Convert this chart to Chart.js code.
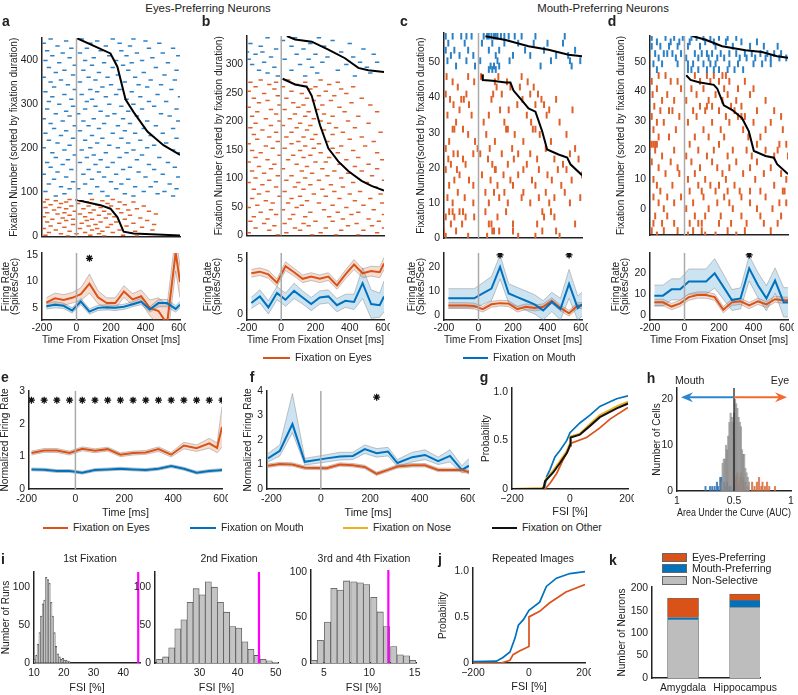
<!DOCTYPE html>
<html>
<head>
<meta charset="utf-8">
<script src="https://cdn.jsdelivr.net/npm/chart.js@4.4.1/dist/chart.umd.min.js"></script>
<style>
    body { margin: 0; width: 798px; height: 695px; position: relative; overflow: hidden; background: #fff;
           font-family: "Liberation Sans", Arial, Helvetica, sans-serif; color: #222; }
    canvas { position: absolute; }
    .t { position: absolute; white-space: nowrap; font-size: 10.4px; line-height: 1; }
    .lt { font-weight: bold; font-size: 14px; }
    .ln { position: absolute; height: 0; border-top: 2px solid; }
    .box { position: absolute; width: 25px; height: 9px; border: 1px solid #666; box-sizing: border-box; }
</style>
</head>
<body>
<script>
// ---- data ----
// firing-rate time bins (ms) for a-d
const binT = [-175, -125, -75, -25, 25, 75, 125, 175, 225, 275, 325, 375, 425, 475, 525, 575, 600];

// a: eyes-preferring neuron
const aEyes = [6.0, 6.8, 6.5, 6.9, 7.6, 9.6, 7.0, 5.9, 5.9, 8.1, 6.6, 7.2, 5.0, 4.4, 2.0, 15.5, 9.9];
const aEyesErr = [0.9, 1.0, 1.0, 1.0, 1.2, 1.8, 1.2, 1.0, 1.0, 1.1, 1.1, 1.2, 1.5, 2.5, 3.5, 3.5, 3.0];
const aMouth = [5.3, 5.6, 5.4, 4.5, 6.2, 4.3, 5.0, 5.1, 5.0, 5.2, 5.7, 6.2, 4.7, 5.9, 5.9, 4.8, 5.6];
const aMouthErr = [0.5, 0.6, 0.5, 0.5, 0.6, 0.5, 0.5, 0.5, 0.5, 0.5, 0.5, 0.6, 0.5, 0.7, 0.7, 0.6, 0.6];
const aStarT = [75];

// b: eyes-preferring neuron
const bEyes = [3.7, 3.85, 3.6, 2.85, 4.35, 3.8, 3.2, 3.4, 3.2, 3.4, 2.6, 3.6, 4.5, 3.7, 3.9, 3.8, 4.6];
const bEyesErr = [0.35, 0.35, 0.35, 0.35, 0.4, 0.35, 0.35, 0.35, 0.35, 0.35, 0.35, 0.4, 0.45, 0.4, 0.45, 0.5, 0.55];
const bMouth = [1.0, 1.6, 0.6, 1.9, 1.3, 2.1, 1.5, 0.9, 1.5, 1.6, 0.8, 1.2, 1.1, 2.8, 0.9, 0.8, 1.6];
const bMouthErr = [0.5, 0.6, 0.6, 0.6, 0.6, 0.7, 0.6, 0.6, 0.6, 0.6, 0.6, 0.6, 0.7, 1.4, 1.3, 1.1, 1.4];

// c: mouth-preferring neuron
const cEyes = [4, 4, 4, 3.8, 2.5, 4.5, 5, 4.8, 2.5, 3.5, 3, 3.5, 6, 3, 0.8, 4, 4];
const cEyesErr = 1.2;
const cMouth = [7, 7, 7, 7, 9, 11, 20, 9, 7.5, 6, 4.5, 2, 5.5, 2.5, 13, 3, 4.5];
const cMouthErr = [4, 4, 4, 4, 4.5, 5, 5, 4, 4, 4, 4, 4, 4, 4.5, 6, 5, 5];
const cStarT = [125, 525];

// d: mouth-preferring neuron
const dEyes = [6, 6, 4, 5.5, 8.5, 9.5, 9.5, 8.5, 2.5, 6, 6.5, 4.5, 6.5, 5, 7.5, 7, 7];
const dEyesErr = 1.5;
const dMouth = [9.2, 9.2, 12.2, 12.2, 15.9, 15.9, 15.9, 19.8, 13.5, 7.1, 7.9, 22.2, 14.3, 7.9, 16.4, 6.0, 6.0];
const dMouthErr = [5, 5, 5, 5, 6, 6, 6, 7, 6, 5, 5, 6, 6, 6, 6, 7, 7];
const dStarT = [375];

// raster rows: [fixation number, spike times (ms)...]
const rasterA_mouth = [
    [448, -150, 30, 210, 330], [443, -60, 120, 400], [438, -190, 80, 250, 480], [432, -110, 170, 310],
    [427, -30, 60, 420, 560], [421, -170, 140, 260], [416, -80, 20, 350, 500], [410, -140, 190, 290, 590],
    [405, -40, 100, 440], [399, -180, 50, 230, 380], [394, -100, 160, 320, 530], [388, -10, 90, 270],
    [383, -160, 210, 460], [377, -70, 40, 300, 580], [372, -120, 130, 390], [366, -20, 240, 510],
    [361, -190, 70, 180, 340], [355, -90, 110, 430, 570], [350, -150, 20, 280], [344, -50, 200, 360, 490],
    [339, -130, 150, 410], [333, -10, 80, 250, 550], [328, -180, 120, 320], [322, -70, 30, 230, 470],
    [317, -140, 170, 370, 600], [311, -30, 90, 290], [306, -160, 60, 420, 520], [300, -100, 190, 330],
    [295, -20, 110, 260, 450], [289, -170, 50, 380, 580], [284, -60, 140, 300], [278, -120, 10, 220, 490],
    [273, -40, 180, 350, 540], [267, -190, 100, 270], [262, -80, 40, 410, 590], [256, -150, 160, 310],
    [251, -10, 70, 240, 460], [245, -130, 130, 390, 560], [240, -60, 20, 280], [234, -180, 210, 340, 500],
    [229, -90, 90, 430], [223, -20, 150, 260, 580], [218, -160, 50, 370], [212, -110, 120, 300, 520],
    [207, -40, 190, 450], [201, -190, 80, 240, 410], [196, -70, 30, 330, 560], [190, -140, 170, 290, 600],
    [185, -10, 100, 380], [179, -120, 60, 250, 480], [174, -50, 140, 350], [168, -170, 20, 210, 530],
    [163, -80, 110, 420], [157, -150, 180, 310, 570], [152, -30, 70, 270, 450], [146, -110, 130, 360],
    [141, -190, 40, 230, 500], [135, -60, 160, 400, 590], [130, -130, 90, 300], [124, -20, 200, 460],
    [119, -160, 50, 260, 540], [113, -90, 120, 340, 430], [108, -40, 10, 230, 580], [102, -180, 150, 390, 510],
    [97, -70, 80, 280, 470], [92, -120, 180, 330, 560]
];
const rasterA_eyes = [
    [84, -170, -40, 90, 210], [81, -120, 30, 150], [78, -190, -60, 60, 250, 330], [75, -90, 10, 180],
    [72, -150, 120, 280], [69, -30, 70, 200, 390], [66, -180, -100, 140], [63, -60, 40, 240, 350],
    [60, -130, 100, 300], [57, -10, 160, 420], [54, -170, -70, 80, 260], [51, -110, 20, 190, 460],
    [48, -40, 130, 310], [45, -190, 50, 220], [42, -80, 170, 370], [39, -140, -20, 90, 280],
    [36, -60, 60, 410], [33, -170, 140, 230], [30, -100, 30, 330], [27, -20, 110, 200, 450],
    [24, -150, 70, 290], [21, -70, 180, 380], [18, -190, 20, 120], [15, -120, 90, 250, 440],
    [12, -40, 150, 340], [9, -160, 50, 210], [6, -90, 0, 130, 400], [3, -180, 80, 270], [1, -50, 160, 350]
];
const rasterB_mouth = [
    [347, -80, 80, 220], [342, 10, 300], [337, -180, 170, 400], [332, -120, 60, 250], [327, -30, 130, 480],
    [322, -200, -110, 350], [318, -150, 90, 200, 540], [313, -60, 270, 420], [309, -190, 20, 160],
    [304, -100, 240, 460, 560], [300, -170, 110, 380], [295, -40, 180, 500], [290, -130, 60, 330],
    [285, -80, 210, 520], [280, -20, 140, 430]
];
const rasterB_eyes = [
    [273, -120, 40, 230], [269, -180, -30, 140, 330], [265, -70, 90, 280], [261, -150, 10, 200, 420],
    [257, -40, 170, 350], [253, -190, 60, 260], [249, -100, 120, 380], [245, -20, 220, 310],
    [241, -160, 30, 150, 470], [237, -80, 190, 290], [233, -130, 70, 410], [229, -10, 130, 240, 520],
    [225, -190, 100, 340], [221, -60, 20, 210], [217, -140, 160, 370, 560], [213, -30, 80, 250],
    [209, -170, 140, 300, 450], [205, -90, 50, 190], [201, -10, 230, 390], [197, -150, 110, 280, 510],
    [193, -60, 10, 170], [189, -180, 90, 320, 430], [185, -110, 150, 250], [181, -30, 60, 360, 580],
    [177, -160, 200, 300], [173, -70, 30, 130, 470], [169, -140, 180, 400], [165, -20, 100, 270, 540],
    [161, -190, 60, 220], [157, -90, 140, 350, 490], [153, -50, 20, 190, 300], [149, -170, 110, 420],
    [145, -120, 230, 330, 560], [141, -10, 70, 170], [137, -150, 130, 280, 450], [133, -80, 40, 380, 590],
    [129, -190, 200, 260], [125, -40, 90, 340, 510], [121, -130, 150, 430], [117, -60, 10, 240, 560],
    [113, -170, 120, 310, 470], [109, -100, 180, 390], [105, -20, 60, 270, 530], [101, -150, 140, 350],
    [97, -70, 30, 220, 600], [93, -190, 100, 420, 500], [89, -110, 170, 290], [85, -30, 80, 360, 550],
    [81, -160, 130, 240], [77, -80, 20, 310, 460], [73, -130, 190, 400, 580], [69, -10, 110, 260],
    [65, -170, 60, 340, 520], [61, -90, 150, 430], [57, -50, 40, 220, 590], [53, -140, 120, 300, 480],
    [49, -190, 90, 380], [45, -60, 10, 250, 540], [41, -120, 170, 330, 450], [37, -30, 70, 410, 600],
    [33, -160, 140, 280], [29, -80, 50, 360, 510], [25, -180, 200, 300, 570], [21, -100, 20, 130, 440],
    [17, -40, 160, 390, 530], [13, -150, 80, 260, 600], [9, -70, 110, 350, 480], [5, -190, 30, 230, 560],
    [1, -20, 180, 320, 450]
];
const rasterC_mouth = [
    [57.5, -190, -150, -100, -70, -40, 30, 50, 60, 75, 90, 100, 110, 130, 150, 175, 210, 250, 330, 500],
    [55.5, -175, -80, 20, 80, 150, 230, 320, 400, 490],
    [53.5, -190, -140, -60, 60, 120, 270, 380, 560],
    [52, -160, -110, -30, 100, 200, 300, 450, 520],
    [50.5, -180, -70, 10, 110, 180, 420, 530, 590],
    [49, -130, -20, 70, 90, 120, 360, 540],
    [48, 60, 80, 100]
];
const rasterC_eyes = [
    [46, -185, -60, 15, 115, 250], [44.5, -150, -25, 95, 165, 285], [43, -120, 105, 185, 240, 320],
    [41, -190, -70, 85, 135, 300, 345], [39.5, -165, -100, -85, 75, 255, 365, 450], [38, -145, -55, 225, 330, 380],
    [36.5, -110, 125, 175, 410, 545], [35, -180, -40, 60, 280, 395], [33, -130, 30, 150, 305, 470],
    [31, -150, -140, -90, 160, 170, 315, 330], [29.5, -60, 45, 210, 355, 510], [27.5, -170, -20, 95, 260, 420],
    [25.5, -190, -5, 65, 195, 390, 560], [24, -145, -120, -30, 10, 135, 230, 300, 530],
    [22.5, -175, -90, 55, 205, 340, 440, 580], [21, -160, -75, 80, 170, 280, 490],
    [19.5, -190, -125, 95, 100, 260, 350, 460, 510], [18, -110, 20, 145, 230, 400, 600],
    [16.5, -140, -55, 70, 185, 310, 425, 540], [15, -170, -30, 110, 200, 330, 480],
    [13, -120, 40, 90, 150, 260, 390, 500], [11.5, -180, -80, 120, 250, 350, 440, 590],
    [10, -150, -30, 60, 170, 300, 410, 530], [7.5, -170, -150, -110, -90, 40, 160, 370, 420],
    [6, -190, -140, -75, -25, 110, 380, 440], [4, -160, -95, 60, 75, 200, 340, 560],
    [2, -200, -130, 80, 90, 120, 200, 370, 450], [0.5, -190, -60, 50, 230, 330, 470]
];
const rasterD_mouth = [
    [58.5, -190, -110, -60, -10, 40, 70, 110, 150, 200, 250, 300],
    [57, -160, -80, -30, 30, 120, 170, 240, 330, 420],
    [55.5, -190, -140, -90, -40, 20, 90, 180, 280, 380, 460, 540],
    [53, -170, -120, -100, -70, -20, 60, 100, 130, 160, 210, 260, 300, 350, 390, 440, 480, 520, 560],
    [51.5, -150, -50, 10, 80, 140, 190, 230, 320, 360, 410, 470, 500, 550, 590],
    [49.5, -180, -130, -40, 20, 50, 110, 150, 180, 260, 310, 400, 450, 500],
    [47.5, -160, 20, 40, 80, 130, 170, 200, 250, 290, 340]
];
const rasterD_eyes = [
    [45.5, -150, -110, 60, 130, 170, 220, 240], [43.5, -190, -80, -40, 90, 150, 200, 260, 350],
    [41, -160, -20, 40, 110, 230, 310, 400], [39, -185, -100, 70, 180, 250, 380],
    [37, -130, -60, 10, 140, 220, 300, 470], [35, -175, 90, 130, 160, 270, 330],
    [33.5, -140, -90, -70, 50, 120, 200, 290, 420, 520], [31.5, -190, -30, 70, 240, 310, 330, 350, 560],
    [29.5, -160, -120, 20, 160, 260, 400, 500], [27, -180, -50, 110, 210, 340, 470, 570],
    [24.5, -150, -90, 60, 140, 230, 370, 440], [22, -200, -190, -180, -170, -160, 30, 200, 420, 550, 590],
    [20, -170, -60, 80, 170, 280, 360, 470, 540], [18, -130, 10, 130, 250, 390, 520, 600],
    [16, -190, -80, 40, 160, 300, 420], [14, -150, -40, 90, 190, 260, 380, 500],
    [12, -110, -30, 60, 220, 340, 460, 560], [10, -180, 20, 120, 240, 410, 590],
    [8, -160, -70, 80, 150, 200, 290, 520], [6, -140, 30, 100, 180, 250, 320, 380, 440, 570, 580],
    [4, -180, -100, -20, 110, 230, 330, 470], [2, -150, -60, 50, 190, 260, 380, 550, 590],
    [0, -120, 10, 140, 280, 420, 510], [-2.5, -170, -100, 60, 120, 210, 330, 440, 560],
    [-5, -180, -130, -60, 30, 80, 100, 200, 270, 360, 460, 540], [-7.5, -190, -120, -40, 50, 100, 250, 350, 500],
    [-9, -160, 20, 120, 180, 300]
];

// fixation-duration curves (time ms, fixation number)
const sortA_mouthT = [0, 197, 237, 284, 331, 411, 504, 600];
const sortA_mouthN = [450, 415, 385, 311, 282, 238, 207, 185];
const sortA_eyesT = [0, 0, 139, 197, 237, 273, 331, 600];
const sortA_eyesN = [85, 83, 71, 63, 44, 11, 7, 2];
const sortB_mouthT = [33, 81, 178, 275, 372, 450, 508, 600];
const sortB_mouthN = [350, 344, 340, 326, 311, 294, 290, 287];
const sortB_eyesT = [8, 81, 149, 178, 227, 275, 333, 391, 469, 527, 600];
const sortB_eyesN = [275, 265, 261, 245, 193, 153, 130, 113, 96, 87, 79];
const sortC_mouthT = [40, 157, 290, 406, 522, 600];
const sortC_mouthN = [57.5, 56.4, 54.6, 53.6, 52.2, 51.8];
const sortC_eyesT = [23, 25, 81, 157, 185, 203, 243, 290, 330, 369, 398, 464, 514, 533, 600];
const sortC_eyesN = [46.6, 45, 44.8, 44.3, 44.3, 42, 39.7, 36.9, 36, 30.4, 25.2, 23.8, 22.9, 21, 17.9];
const sortD_mouthT = [45, 122, 218, 354, 450, 537, 600];
const sortD_mouthN = [59, 57.7, 55.5, 54.1, 53.5, 52.1, 51.6];
const sortD_eyesT = [10, 35, 83, 170, 190, 228, 277, 334, 373, 402, 470, 518, 537, 600];
const sortD_eyesN = [45.6, 44, 43.2, 42.3, 41, 35.3, 33.7, 30.9, 26.4, 19.7, 18, 17.4, 15.2, 11.8];

// e: population, eyes-preferring
const eT = [-180, -128, -76, -24, 28, 80, 132, 184, 236, 288, 340, 392, 444, 496, 548, 580, 600];
const eEyes = [1.1, 1.18, 1.18, 1.1, 1.23, 1.17, 1.22, 1.05, 1.1, 1.12, 1.22, 1.05, 1.33, 1.25, 1.4, 1.26, 1.9];
const eEyesErr = [0.06, 0.06, 0.06, 0.06, 0.06, 0.06, 0.06, 0.06, 0.06, 0.06, 0.07, 0.07, 0.1, 0.1, 0.15, 0.15, 0.62];
const eMouth = [0.6, 0.59, 0.55, 0.55, 0.5, 0.58, 0.6, 0.62, 0.6, 0.58, 0.62, 0.7, 0.62, 0.5, 0.55, 0.57, 0.58];
const eMouthErr = 0.045;
const eStarT = [-180, -128, -76, -24, 28, 80, 132, 184, 236, 288, 340, 392, 444, 496, 548, 600];

// f: population, mouth-preferring
const fT = [-214, -166, -115, -65, 23, 77, 130, 178, 226, 272, 310, 370, 422, 475, 523, 571, 600];
const fMouth = [1.25, 1.56, 2.65, 1.11, 1.25, 1.33, 1.35, 1.63, 1.46, 1.53, 1.06, 1.3, 1.39, 1.14, 1.35, 0.78, 0.95];
const fMouthHi = [1.45, 1.8, 3.9, 1.25, 1.4, 1.5, 1.5, 1.8, 1.65, 1.7, 1.2, 1.5, 1.6, 1.3, 1.6, 0.95, 1.25];
const fMouthLo = [1.1, 1.35, 2.3, 0.98, 1.1, 1.18, 1.2, 1.45, 1.3, 1.35, 0.92, 1.1, 1.2, 1.0, 1.1, 0.65, 0.75];
const fEyes = [0.95, 1.02, 1.0, 0.87, 0.85, 1.0, 0.97, 0.9, 0.62, 0.78, 0.92, 0.97, 0.97, 0.78, 0.78, 0.78, 0.68];
const fEyesErr = 0.07;
const fStarT = [226];

// g: cumulative FSI
const gMouthX = [-200, -100, -88, -85, -80, -69, -52, -34, -11, 0, 34, 69, 103, 140, 161, 200];
const gMouthY = [0, 0, 0.02, 0.05, 0.13, 0.2, 0.33, 0.4, 0.5, 0.58, 0.68, 0.76, 0.85, 0.9, 0.93, 0.96];
const gEyesX = [-200, -86, -80, -69, -46, -24, -6, 0, 2, 57, 103, 138, 200];
const gEyesY = [0, 0, 0.02, 0.06, 0.16, 0.3, 0.4, 0.44, 0.47, 0.53, 0.63, 0.72, 0.84];
const gNoseX = [-200, -95, -90, -85, -58, -34, -11, 0, 2, 34, 69, 103, 161, 200];
const gNoseY = [0, 0.01, 0.03, 0.09, 0.19, 0.29, 0.39, 0.47, 0.54, 0.57, 0.67, 0.76, 0.85, 0.9];
const gOtherX = [-200, -95, -90, -86, -58, -34, -11, 0, 2, 34, 69, 103, 161, 200];
const gOtherY = [0, 0, 0.02, 0.08, 0.17, 0.27, 0.37, 0.45, 0.53, 0.56, 0.65, 0.74, 0.83, 0.88];

// h: AUC histogram
const hGrayX = [0.39, 0.40, 0.41, 0.42, 0.43, 0.44, 0.45, 0.46, 0.47, 0.48, 0.49, 0.50, 0.51,
                0.52, 0.53, 0.54, 0.55, 0.56, 0.57, 0.58, 0.59, 0.60, 0.61, 0.62, 0.63];
const hGrayY = [2, 6, 7, 7, 10, 9, 12, 15, 17, 16, 15, 17, 20, 19, 18, 16, 15, 14, 9, 8, 8, 5, 4, 3, 2];
const hMouthX = [0.25, 0.29, 0.31, 0.33, 0.35, 0.36, 0.38, 0.39, 0.41, 0.43, 0.44, 0.46, 0.47];
const hMouthY = [1, 1, 1, 1, 2, 1, 3, 3, 2, 1, 2, 1, 1];
const hEyeX = [0.51, 0.52, 0.53, 0.54, 0.55, 0.56, 0.58, 0.60, 0.62, 0.66, 0.68, 0.70, 0.72, 0.74, 0.75, 0.77, 0.79, 0.81, 0.86];
const hEyeY = [1, 3, 4, 2, 3, 4, 3, 2, 1, 2, 1, 2, 3, 1, 2, 1, 2, 1, 1];
const hTickLabels = ['1', '0.5', '1'];

// i: shuffled FSI distributions, observed value in magenta
const i1X = [10.2, 10.8, 11.3, 11.9, 12.4, 13.0, 13.5, 14.1, 14.7, 15.2, 15.8, 16.3, 16.9, 17.4, 18.0, 18.6, 19.1, 19.7, 20.2, 20.8, 21.3, 21.9];
const i1Y = [5, 10, 25, 40, 62, 78, 83, 113, 110, 105, 80, 62, 40, 22, 12, 8, 5, 6, 4, 4, 3, 2];
const i1Obs = 45;
const i2X = [19.5, 21.1, 22.7, 24.3, 25.9, 27.5, 29.1, 30.7, 32.3, 33.9, 35.5, 37.1, 38.7, 40.3, 41.9, 43.5, 45.1, 46.7, 48.3, 49.9];
const i2Y = [5, 8, 20, 45, 57, 80, 98, 90, 107, 100, 80, 67, 48, 46, 28, 18, 10, 5, 3, 1];
const i2Obs = 45.6;
const i3X = [3.9, 4.6, 5.4, 6.1, 6.8, 7.5, 8.3, 9.0, 9.7, 10.5, 11.2, 11.9, 12.7, 13.4, 14.1, 14.8];
const i3Y = [3, 25, 45, 82, 80, 90, 89, 88, 86, 72, 56, 40, 18, 9, 8, 3];
const i3Obs = 12.1;

// j: repeated images
const jMouthX = [-200, -116, -93, -68, -50, -38, -20, 0, 38, 62, 98, 146, 200];
const jMouthY = [0.015, 0.02, 0.06, 0.12, 0.27, 0.41, 0.47, 0.57, 0.66, 0.83, 0.92, 0.97, 0.99];
const jEyesX = [-200, -100, -68, -57, -34, 0, 0, 38, 73, 132, 200];
const jEyesY = [0, 0, 0.03, 0.09, 0.13, 0.18, 0.5, 0.56, 0.65, 0.77, 0.85];

// k: neuron counts
const regions = ['Amygdala', 'Hippocampus'];
const nonSelective = [130, 158];
const mouthPref = [5, 15];
const eyesPref = [43, 14];

// ---- style ----
const FONT = '"Liberation Sans", Arial, Helvetica, sans-serif';
const INK = '#222';
const ORANGE = '#D95319', BLUE = '#0072BD', YELLOW = '#EDB120';
const R_ORANGE = '#E0602A', R_BLUE = '#2B80C6';
const O_FILL = 'rgba(217,83,25,0.2)', B_FILL = 'rgba(0,114,189,0.2)', EDGE = 'rgba(120,120,120,0.6)';
const TICK_SIZE = 10.4;
const XTITLE_SIZE = 10.8;
const YTITLE_SIZE = 10.1;

// ---- helpers ----
const pts = (xs, ys) => xs.map((x, i) => ({x, y: Array.isArray(ys) ? ys[i] : ys}));
const plus = (v, e) => v.map((y, i) => y + (Array.isArray(e) ? e[i] : e));
const minus = (v, e) => v.map((y, i) => y - (Array.isArray(e) ? e[i] : e));

function rasterPts(rows) {
    const out = [];
    rows.forEach(r => r.slice(1).forEach(t => out.push({x: t, y: r[0]})));
    return out;
}

function scale(min, max, ticks, o = {}) {
    const s = {
        type: 'linear', min, max, offset: false,
        grid: {display: false, drawTicks: false, offset: false},
        border: {display: true, color: INK, width: 1.5},
        ticks: {display: ticks.length > 0, color: INK, padding: o.pad || 3, autoSkip: false, maxRotation: 0,
                font: {family: FONT, size: TICK_SIZE}},
        afterBuildTicks: sc => { sc.ticks = ticks.map(v => ({value: v})); }
    };
    if (o.labels) s.ticks.callback = (v, i) => o.labels[i];
    if (o.title) s.title = {display: true, text: o.title, color: INK, padding: 0,
                            font: {family: FONT, size: o.ts || XTITLE_SIZE, lineHeight: o.lh || 1.2}};
    if (o.stacked) s.stacked = true;
    return s;
}
const yScale = (min, max, ticks, o = {}) => scale(min, max, ticks, Object.assign({ts: YTITLE_SIZE, pad: 4}, o));

// plot area is placed at box (page pixels); W = y-axis strip width, H = x-axis strip height
function makeChart(box, W, H, type, datasets, xs, ys, plugins = [], PR = 6) {
    const PT = 16;
    const w = box.r - box.l + W + PR, h = box.b - box.t + PT + H;
    const cv = document.createElement('canvas');
    cv.width = w; cv.height = h;
    cv.style.left = (box.l - W) + 'px';
    cv.style.top = (box.t - PT) + 'px';
    cv.style.width = w + 'px';
    cv.style.height = h + 'px';
    document.body.appendChild(cv);
    xs.position = 'bottom';
    ys.position = 'left';
    xs.afterFit = sc => { sc.height = H; sc.paddingLeft = 0; sc.paddingRight = 0; };
    ys.afterFit = sc => { sc.width = W; sc.paddingTop = 0; sc.paddingBottom = 0; };
    return new Chart(cv, {
        type,
        data: {datasets},
        plugins,
        options: {
            responsive: false, animation: false, events: [],
            layout: {padding: {left: 0, top: PT, right: PR, bottom: 0}},
            plugins: {legend: {display: false}, tooltip: {enabled: false}},
            scales: {x: xs, y: ys}
        }
    });
}

function vline(id, x, color, width) {
    return {
        id,
        afterDatasetsDraw(chart) {
            const {ctx, chartArea: ca, scales} = chart;
            const px = scales.x.getPixelForValue(x);
            ctx.save();
            ctx.strokeStyle = color;
            ctx.lineWidth = width;
            ctx.beginPath();
            ctx.moveTo(px, ca.bottom);
            ctx.lineTo(px, ca.top);
            ctx.stroke();
            ctx.restore();
        }
    };
}

const lineDs = (data, color, width = 2) =>
    ({data, borderColor: color, borderWidth: width, pointRadius: 0, tension: 0, fill: false, order: 0});

function bandDs(xs, lo, hi, fillColor) {
    return [
        {data: pts(xs, hi), borderColor: EDGE, borderWidth: 0.7, pointRadius: 0, tension: 0, fill: '+1', backgroundColor: fillColor, order: 3},
        {data: pts(xs, lo), borderColor: EDGE, borderWidth: 0.7, pointRadius: 0, tension: 0, fill: false, order: 3}
    ];
}

const starDs = (xs, y) => ({data: pts(xs, y), showLine: false, pointStyle: 'star', pointRadius: 3.5,
                            borderColor: '#111', borderWidth: 1.3, order: 0});

function rasterDs(rows, color, vertical) {
    return {data: rasterPts(rows), showLine: false, pointStyle: 'line', rotation: vertical ? 90 : 0,
            pointRadius: vertical ? 3.4 : 2.2, borderColor: color, borderWidth: vertical ? 2 : 1.5, order: 2};
}

const RASTER_TITLE = 'Fixation Number (sorted by fixation duration)';
const FR_TITLE = ['Firing Rate', '(Spikes/Sec)'];
const T_TITLE = 'Time From Fixation Onset [ms]';
const T_TICKS = [-200, 0, 200, 400, 600];

function rasterChart(box, W, rowsMouth, rowsEyes, sortM, sortE, yMin, yMax, yTicks, vertical, title) {
    makeChart(box, W, 2, 'line', [
        lineDs(pts(sortM[0], sortM[1]), '#000', 2),
        lineDs(pts(sortE[0], sortE[1]), '#000', 2),
        rasterDs(rowsMouth, R_BLUE, vertical),
        rasterDs(rowsEyes, R_ORANGE, vertical)
    ], scale(-200, 600, []), yScale(yMin, yMax, yTicks, {title: title || RASTER_TITLE}),
    [vline('zero', 0, '#aaa', 1.5)]);
}

function rateChart(box, W, eyes, eyesErr, mouth, mouthErr, yMin, yMax, yTicks, starT, starY) {
    const ds = [
        lineDs(pts(binT, mouth), BLUE, 2),
        lineDs(pts(binT, eyes), ORANGE, 2),
        ...bandDs(binT, minus(eyes, eyesErr), plus(eyes, eyesErr), O_FILL),
        ...bandDs(binT, minus(mouth, mouthErr), plus(mouth, mouthErr), B_FILL)
    ];
    if (starT) ds.unshift(starDs(starT, starY));
    makeChart(box, W, 27, 'line', ds,
        scale(-200, 600, T_TICKS, {title: T_TITLE, pad: 2}),
        yScale(yMin, yMax, yTicks, {title: FR_TITLE, lh: 0.95}),
        [vline('zero', 0, '#aaa', 1.5)]);
}

// ---- top row: single neurons ----
rasterChart({l: 42, r: 180, t: 38, b: 240}, 34, rasterA_mouth, rasterA_eyes,
    [sortA_mouthT, sortA_mouthN], [sortA_eyesT, sortA_eyesN], 0, 450, [0, 100, 200, 300, 400], false);
rateChart({l: 42, r: 180, t: 253, b: 320}, 41, aEyes, aEyesErr, aMouth, aMouthErr, 2.7, 15.4, [5, 10, 15], aStarT, 14.4);

rasterChart({l: 247, r: 384, t: 36, b: 239}, 34, rasterB_mouth, rasterB_eyes,
    [sortB_mouthT, sortB_mouthN], [sortB_eyesT, sortB_eyesN], 0, 350, [0, 50, 100, 150, 200, 250, 300], false);
rateChart({l: 247, r: 384, t: 253, b: 320}, 44, bEyes, bEyesErr, bMouth, bMouthErr, -0.55, 5.55, [0, 5]);

rasterChart({l: 444, r: 582, t: 33, b: 242}, 29, rasterC_mouth, rasterC_eyes,
    [sortC_mouthT, sortC_mouthN], [sortC_eyesT, sortC_eyesN], 0, 58.4, [0, 10, 20, 30, 40, 50], true,
    'Fixation Number(sorted by fixation duration)');
rateChart({l: 444, r: 582, t: 253, b: 320}, 37, cEyes, cEyesErr, cMouth, cMouthErr, -2, 25.8, [0, 10, 20], cStarT, 25);

rasterChart({l: 650, r: 788, t: 36, b: 239}, 35, rasterD_mouth, rasterD_eyes,
    [sortD_mouthT, sortD_mouthN], [sortD_eyesT, sortD_eyesN], -9, 59, [0, 10, 20, 30, 40, 50], true);
rateChart({l: 650, r: 788, t: 253, b: 320}, 39, dEyes, dEyesErr, dMouth, dMouthErr, -2.4, 29.5, [0, 10, 20], dStarT, 28.6);

// ---- e, f: population averages ----
makeChart({l: 29, r: 222, t: 391, b: 489}, 30, 31, 'line', [
    starDs(eStarT, 2.72),
    lineDs(pts(eT, eMouth), BLUE, 2),
    lineDs(pts(eT, eEyes), ORANGE, 2),
    ...bandDs(eT, minus(eEyes, eEyesErr), plus(eEyes, eEyesErr), O_FILL),
    ...bandDs(eT, minus(eMouth, eMouthErr), plus(eMouth, eMouthErr), B_FILL)
], scale(-190, 600, T_TICKS, {title: 'Time [ms]', pad: 4}),
   yScale(0, 3, [0, 1, 2, 3], {title: 'Normalized Firing Rate'}),
   [vline('zero', 0, '#aaa', 1.5)]);

makeChart({l: 267, r: 469, t: 391, b: 489}, 25, 31, 'line', [
    starDs(fStarT, 3.75),
    lineDs(pts(fT, fEyes), ORANGE, 2),
    lineDs(pts(fT, fMouth), BLUE, 2),
    ...bandDs(fT, minus(fEyes, fEyesErr), plus(fEyes, fEyesErr), O_FILL),
    ...bandDs(fT, fMouthLo, fMouthHi, B_FILL)
], scale(-218, 600, T_TICKS, {title: 'Time [ms]', pad: 4}),
   yScale(0, 4, [0, 1, 2, 3, 4], {title: 'Normalized Firing Rate'}),
   [vline('zero', 0, '#aaa', 1.5)]);

// ---- g: cumulative distributions ----
const FSI_LABELS = ['\u2212200', '0', '200'];
makeChart({l: 512, r: 628, t: 388, b: 489}, 32, 30, 'line', [
    lineDs(pts(gOtherX, gOtherY), '#111', 2),
    lineDs(pts(gNoseX, gNoseY), YELLOW, 2),
    lineDs(pts(gEyesX, gEyesY), ORANGE, 1.7),
    lineDs(pts(gMouthX, gMouthY), BLUE, 1.7)
], scale(-200, 200, [-200, 0, 200], {title: 'FSI [%]', labels: FSI_LABELS, pad: 4}),
   yScale(0, 1.04, [0, 0.5, 1], {title: 'Probability'}));

// ---- h: AUC histogram with arrows ----
const H_SPLIT = 0.5, H_ARROW_Y = 20.4, H_ARROW = [0.035, 0.965];
function drawArrow(ctx, x1, x2, y, color) {
    const dir = Math.sign(x2 - x1);
    ctx.strokeStyle = color;
    ctx.fillStyle = color;
    ctx.lineWidth = 2;
    ctx.beginPath(); ctx.moveTo(x1, y); ctx.lineTo(x2 - dir * 8, y); ctx.stroke();
    ctx.beginPath();
    ctx.moveTo(x2, y); ctx.lineTo(x2 - dir * 12, y - 5); ctx.lineTo(x2 - dir * 8, y); ctx.lineTo(x2 - dir * 12, y + 5);
    ctx.closePath(); ctx.fill();
}
const hDecor = {
    id: 'hDecor',
    afterDatasetsDraw(chart) {
        const {ctx, chartArea: ca, scales: {x, y}} = chart;
        const x0 = x.getPixelForValue(H_SPLIT), ya = y.getPixelForValue(H_ARROW_Y);
        ctx.save();
        ctx.strokeStyle = '#111'; ctx.lineWidth = 1.2;
        ctx.beginPath(); ctx.moveTo(x0, ca.bottom); ctx.lineTo(x0, ca.top); ctx.stroke();
        drawArrow(ctx, x0, x.getPixelForValue(H_ARROW[0]), ya, '#2A86CF');
        drawArrow(ctx, x0, x.getPixelForValue(H_ARROW[1]), ya, '#F26A2E');
        ctx.restore();
    }
};
const histDs = (xs, ys, fill, border, thick) => ({data: pts(xs, ys), backgroundColor: fill, borderColor: border,
    borderWidth: 0.6, grouped: false, barThickness: thick, barPercentage: 1, categoryPercentage: 1});
makeChart({l: 677, r: 791, t: 388, b: 491}, 26, 29, 'bar', [
    histDs(hGrayX, hGrayY, 'rgba(165,165,165,0.5)', 'rgba(120,120,120,0.6)', 1.8),
    histDs(hMouthX, hMouthY, 'rgba(40,110,180,0.6)', 'rgba(40,110,180,0.7)', 1.8),
    histDs(hEyeX, hEyeY, 'rgba(215,100,50,0.55)', 'rgba(215,100,50,0.7)', 1.8)
], scale(0, 1, [0, 0.5, 1], {title: 'Area Under the Curve (AUC)', labels: hTickLabels, pad: 4}),
   yScale(0, 22.4, [0, 10, 20], {title: 'Number of Cells'}), [hDecor]);

// ---- i: shuffle distributions ----
const iBar = (xs, ys) => ({data: pts(xs, ys), backgroundColor: '#c4c4c4', borderColor: '#555', borderWidth: 0.8,
    barPercentage: 1, categoryPercentage: 1});
makeChart({l: 34, r: 140, t: 572, b: 663}, 34, 32, 'bar', [iBar(i1X, i1Y)],
    scale(10, 45.6, [10, 20, 30, 40], {title: 'FSI [%]', pad: 4}),
    yScale(0, 120, [0, 50, 100], {title: 'Number of Runs'}),
    [vline('obs', i1Obs, '#FF00FF', 2.2)]);
makeChart({l: 155, r: 278, t: 572, b: 663}, 30, 32, 'bar', [iBar(i2X, i2Y)],
    scale(18.3, 50.6, [30, 40, 50], {title: 'FSI [%]', pad: 4}),
    yScale(0, 120, [0, 50, 100]),
    [vline('obs', i2Obs, '#FF00FF', 2.2)]);
makeChart({l: 311, r: 416, t: 570, b: 663}, 30, 32, 'bar', [iBar(i3X, i3Y)],
    scale(3.57, 15.15, [5, 10, 15], {title: 'FSI [%]', pad: 4}),
    yScale(0, 102, [0, 50, 100]),
    [vline('obs', i3Obs, '#FF00FF', 2.2)]);

// ---- j: repeated images ----
makeChart({l: 473, r: 585, t: 568, b: 663}, 36, 31, 'line', [
    lineDs(pts(jEyesX, jEyesY), ORANGE, 1.7),
    lineDs(pts(jMouthX, jMouthY), BLUE, 1.7)
], scale(-200, 200, [-200, 0, 200], {title: 'FSI [%]', labels: FSI_LABELS, pad: 4}),
   yScale(0, 1.03, [0, 0.5, 1], {title: 'Probability'}));

// ---- k: neuron counts ----
const kBar = (ys, color) => ({data: pts([1, 2], ys), backgroundColor: color, borderColor: '#666', borderWidth: 0.6,
    barThickness: 31});
makeChart({l: 652, r: 760, t: 587, b: 678}, 36, 17, 'bar', [
    kBar(nonSelective, '#BDBDBD'),
    kBar(mouthPref, BLUE),
    kBar(eyesPref, ORANGE)
], scale(0.5, 2.24, [1, 2], {labels: regions, stacked: true, pad: 4}),
   yScale(0, 203, [0, 50, 100, 150, 200], {title: 'Number of Neurons', stacked: true}), [], 36);

// ---- text, legends ----
function text(str, x, y, opts = {}) {
    const el = document.createElement('div');
    el.className = 't' + (opts.bold ? ' lt' : '');
    el.textContent = str;
    if (opts.size) el.style.fontSize = opts.size + 'px';
    el.style.left = x + 'px';
    el.style.top = y + 'px';
    el.style.transform = opts.left ? 'translateY(-50%)' : 'translate(-50%, -50%)';
    document.body.appendChild(el);
}
function legendLine(x1, x2, y, color, label) {
    const el = document.createElement('div');
    el.className = 'ln';
    el.style.left = x1 + 'px';
    el.style.top = (y - 1) + 'px';
    el.style.width = (x2 - x1) + 'px';
    el.style.borderColor = color;
    document.body.appendChild(el);
    text(label, x2 + 5, y, {left: true, size: 10.4});
}
function legendBox(x, y, color, label) {
    const el = document.createElement('div');
    el.className = 'box';
    el.style.left = x + 'px';
    el.style.top = (y - 4.5) + 'px';
    el.style.background = color;
    document.body.appendChild(el);
    text(label, x + 30, y, {left: true, size: 10.6});
}

text('Eyes-Preferring Neurons', 208, 9, {size: 11.4});
text('Mouth-Preferring Neurons', 603, 9, {size: 11.4});
[['a', 6, 21], ['b', 206, 21], ['c', 404, 21], ['d', 612, 21], ['e', 5, 377], ['f', 252, 377],
 ['g', 484, 377], ['h', 651, 378], ['i', 3, 559], ['j', 440, 559], ['k', 613, 560]]
    .forEach(([s, x, y]) => text(s, x, y, {bold: true}));

legendLine(263, 290, 358, ORANGE, 'Fixation on Eyes');
legendLine(463, 488, 358, BLUE, 'Fixation on Mouth');
legendLine(43, 68, 528, ORANGE, 'Fixation on Eyes');
legendLine(190, 216, 528, BLUE, 'Fixation on Mouth');
legendLine(343, 368, 528, YELLOW, 'Fixation on Nose');
legendLine(492, 517, 528, '#111', 'Fixation on Other');

text('Mouth', 675, 380, {left: true, size: 10.6});
text('Eye', 780, 380, {size: 10.6});
text('1st Fixation', 90, 558, {size: 10.5});
text('2nd Fixation', 229, 558, {size: 10.5});
text('3rd and 4th Fixation', 364, 558, {size: 10.5});
text('Repeated Images', 533, 559, {size: 10.4});

legendBox(662, 557, ORANGE, 'Eyes-Preferring');
legendBox(662, 568, BLUE, 'Mouth-Preferring');
legendBox(662, 580, '#BDBDBD', 'Non-Selective');
</script>
</body>
</html>
